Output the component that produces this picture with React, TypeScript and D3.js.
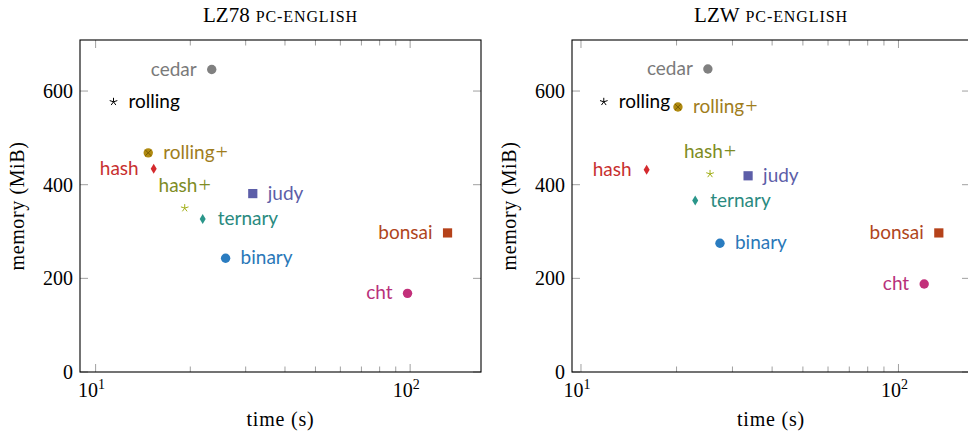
import React from "react";
import * as d3 from "d3";

// ---- data ----
const categories = ["cedar", "rolling", "rolling+", "hash", "hash+", "ternary", "judy", "binary", "bonsai", "cht"];
const lz78Time = [23.4, 11.4, 14.7, 15.3, 19.2, 21.9, 31.6, 25.9, 131.5, 98.1];
const lz78Memory = [646, 577, 468, 434, 350, 327, 381, 243, 297, 168];
const lzwTime = [25.1, 11.8, 20.2, 16.1, 25.5, 22.9, 33.6, 27.4, 134, 120.5];
const lzwMemory = [647, 577, 566, 432, 423, 366, 419, 275, 297, 188];
const yTicks = [0, 200, 400, 600];
const xMajorExps = [1, 2];
const xMinor = [20, 30, 40, 50, 60, 70, 80, 90];
const labelSide = ["left", "right", "right", "left", "above", "right", "right", "right", "left", "left"];

// ---- styles ----
type Mark = "circle" | "star" | "otimes" | "diamond" | "square";
const styleOf: Record<string, { color: string; text: string; mark: Mark }> = {
  cedar: { color: "#808080", text: "#7a7a7a", mark: "circle" },
  rolling: { color: "#000000", text: "#000000", mark: "star" },
  "rolling+": { color: "#b08a10", text: "#a07d1c", mark: "otimes" },
  hash: { color: "#d42a2e", text: "#c8302f", mark: "diamond" },
  "hash+": { color: "#a3b01a", text: "#7e8c24", mark: "star" },
  ternary: { color: "#2a968a", text: "#2a8a80", mark: "diamond" },
  judy: { color: "#5c5ea8", text: "#5c5ea8", mark: "square" },
  binary: { color: "#2a7cc0", text: "#2a78b8", mark: "circle" },
  bonsai: { color: "#b5421a", text: "#b0461c", mark: "square" },
  cht: { color: "#c2307a", text: "#b8307a", mark: "circle" },
};

const SERIF = "'Liberation Serif', 'DejaVu Serif', serif";
const SANS = "Lato, 'Open Sans', sans-serif";

const Y0 = 372;
const Y1 = 40;

const panels = [
  { title: "LZ78", sub: "PC-ENGLISH", time: lz78Time, memory: lz78Memory, x0: 80, x1: 481, domain: [8.92, 168] },
  { title: "LZW", sub: "PC-ENGLISH", time: lzwTime, memory: lzwMemory, x0: 572, x1: 970, domain: [9.37, 168] },
];

function Marker({ mark, x, y, color }: { mark: Mark; x: number; y: number; color: string }) {
  if (mark === "circle") return <circle cx={x} cy={y} r={4.7} fill={color} />;
  if (mark === "otimes") {
    const d = 3;
    return (
      <g>
        <circle cx={x} cy={y} r={4.7} fill={color} />
        <path d={`M${x - d},${y - d}L${x + d},${y + d}M${x - d},${y + d}L${x + d},${y - d}`} stroke="#7a5c00" strokeWidth={1} />
      </g>
    );
  }
  if (mark === "square") return <rect x={x - 4.6} y={y - 4.6} width={9.2} height={9.2} fill={color} />;
  if (mark === "diamond")
    return <path d={`M${x},${y - 5}L${x + 3},${y}L${x},${y + 5}L${x - 3},${y}Z`} fill={color} />;
  // star: 5 arms
  const r = 4;
  const arms = d3.range(5).map((k) => {
    const a = -Math.PI / 2 + (k * 2 * Math.PI) / 5;
    return `M${x},${y}L${x + r * Math.cos(a)},${y + r * Math.sin(a)}`;
  });
  return <path d={arms.join("")} stroke={color} strokeWidth={1} fill="none" />;
}

function Label({ name, x, y, anchor, color }: { name: string; x: number; y: number; anchor: "start" | "end" | "middle"; color: string }) {
  const plus = name.endsWith("+");
  const base = plus ? name.slice(0, -1) : name;
  return (
    <text x={x} y={y} dy="0.32em" textAnchor={anchor} fontFamily={SANS} fontSize={19} fill={color}>
      {base}
      {plus && (
        <tspan fontFamily={SERIF} fontSize={22} dx={1}>
          +
        </tspan>
      )}
    </text>
  );
}

function Panel({ p }: { p: (typeof panels)[number] }) {
  const x = d3.scaleLog().domain(p.domain).range([p.x0, p.x1]);
  const y = d3.scaleLinear().domain([0, 709]).range([Y0, Y1]);
  const cx = (p.x0 + p.x1) / 2;
  const tickCol = "#a0a0a0";
  return (
    <g>
      {/* title */}
      <text x={cx} y={22} textAnchor="middle" fontFamily={SERIF} fontSize={21} fill="#000">
        {p.title}
        <tspan fontSize={16} letterSpacing={0.9} dx={6}>{p.sub}</tspan>
      </text>
      {/* ticks */}
      {xMinor.map((v) => (
        <g key={"m" + v}>
          <line x1={x(v)} x2={x(v)} y1={Y0} y2={Y0 - 5.5} stroke={tickCol} />
          <line x1={x(v)} x2={x(v)} y1={Y1} y2={Y1 + 5.5} stroke={tickCol} />
        </g>
      ))}
      {xMajorExps.map((e) => {
        const v = Math.pow(10, e);
        return (
          <g key={"M" + e}>
            <line x1={x(v)} x2={x(v)} y1={Y0} y2={Y0 - 8} stroke={tickCol} />
            <line x1={x(v)} x2={x(v)} y1={Y1} y2={Y1 + 8} stroke={tickCol} />
            <text x={x(v) - 4} y={397} textAnchor="middle" fontFamily={SERIF} fontSize={20} fill="#000">
              10<tspan fontSize={14} dy={-8}>{e}</tspan>
            </text>
          </g>
        );
      })}
      {yTicks.map((t) => (
        <g key={"y" + t}>
          <line x1={p.x0} x2={p.x0 + 8} y1={y(t)} y2={y(t)} stroke={tickCol} />
          <line x1={p.x1} x2={p.x1 - 8} y1={y(t)} y2={y(t)} stroke={tickCol} />
          <text x={p.x0 - 7} y={y(t)} dy="0.35em" textAnchor="end" fontFamily={SERIF} fontSize={20} fill="#000">
            {t}
          </text>
        </g>
      ))}
      {/* frame */}
      <rect x={p.x0} y={Y1} width={p.x1 - p.x0} height={Y0 - Y1} fill="none" stroke="#000" strokeWidth={1.1} />
      {/* axis labels */}
      <text x={cx} y={426} textAnchor="middle" fontFamily={SERIF} fontSize={20} letterSpacing={0.8} fill="#000">
        time (s)
      </text>
      <text
        transform={`translate(${p.x0 - 56},${(Y0 + Y1) / 2}) rotate(-90)`}
        textAnchor="middle"
        fontFamily={SERIF}
        fontSize={20}
        letterSpacing={0.6}
        fill="#000"
      >
        memory (MiB)
      </text>
      {/* points */}
      {categories.map((c, i) => {
        const st = styleOf[c];
        const px = x(p.time[i]);
        const py = y(p.memory[i]);
        const side = labelSide[i];
        let lx = px, ly = py, anchor: "start" | "end" | "middle" = "start";
        if (side === "right") { lx = px + 15; anchor = "start"; }
        else if (side === "left") { lx = px - 15; anchor = "end"; }
        else { ly = py - 22; anchor = "middle"; }
        return (
          <g key={c}>
            <Marker mark={st.mark} x={px} y={py} color={st.color} />
            <Label name={c} x={lx} y={ly} anchor={anchor} color={st.text} />
          </g>
        );
      })}
    </g>
  );
}

export default function App() {
  return (
    <svg
      width={968}
      height={434}
      viewBox="0 0 968 434"
      style={{ position: "absolute", left: 0, top: 0, display: "block", background: "#fff" }}
    >
      <rect width={968} height={434} fill="#fff" />
      {panels.map((p) => (
        <Panel key={p.title} p={p} />
      ))}
    </svg>
  );
}
